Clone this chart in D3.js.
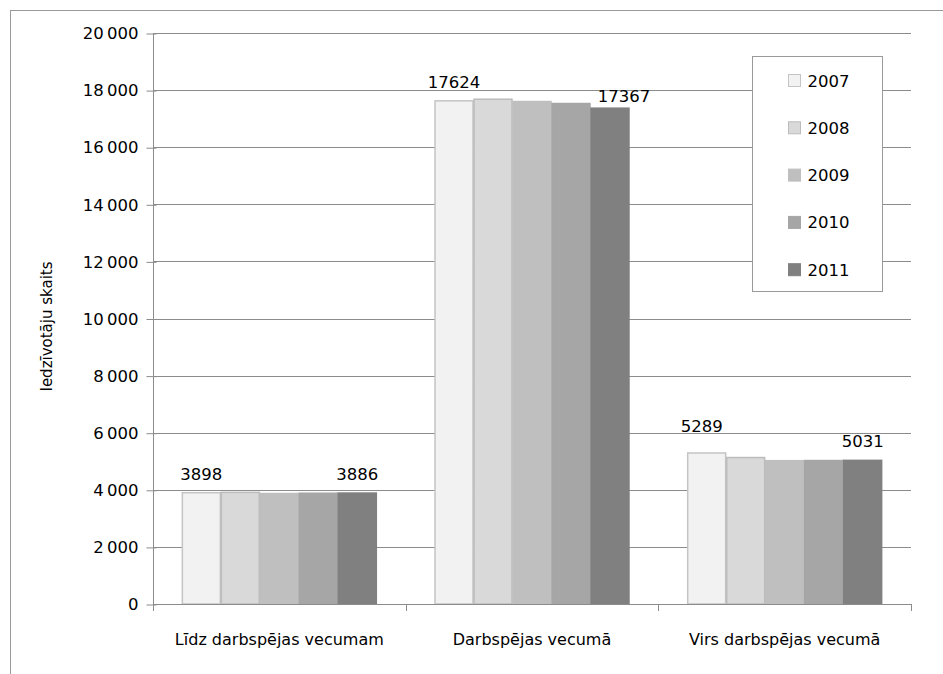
<!DOCTYPE html>
<html>
<head>
<meta charset="utf-8">
<script src="https://cdn.jsdelivr.net/npm/d3@7"></script>
<style>
  body { margin: 0; background: #fff; }
  svg text { font-family: 'DejaVu Sans', sans-serif; fill: #000; }
</style>
</head>
<body>
<div class="canvas"></div>
<script>
// data
const categories = ['Līdz darbspējas vecumam', 'Darbspējas vecumā', 'Virs darbspējas vecumā'];
const years = ['2007', '2008', '2009', '2010', '2011'];
const values2007 = [3898, 17624, 5289];
const values2008 = [3910, 17680, 5130];
const values2009 = [3870, 17600, 5020];
const values2010 = [3880, 17530, 5025];
const values2011 = [3886, 17367, 5031];
const yTicks = [0, 2000, 4000, 6000, 8000, 10000, 12000, 14000, 16000, 18000, 20000];
const yTitle = 'Iedzīvotāju skaits';

const series = [values2007, values2008, values2009, values2010, values2011];

const dims = { width: 943, height: 674 };
const plot = { left: 153, right: 911, top: 33, bottom: 604 };

const fills = ['#f2f2f2', '#d9d9d9', '#bfbfbf', '#a6a6a6', '#808080'];
const strokes = ['#c4c4c4', '#bcbcbc', '#bfbfbf', '#a6a6a6', '#808080'];

// only the first and last year get a value label, like the original.
// a couple of labels were moved by hand there, keyed "category-year"
const labelNudge = { '1-4': [14, 7], '2-0': [-5, -8] };
const nudge = d => labelNudge[`${d.cat}-${d.j}`] || [0, 0];

const svg = d3.select('.canvas')
  .append('svg')
  .attr('width', dims.width)
  .attr('height', dims.height);

// outer frame (only the left and top edges are inside the picture)
svg.append('rect')
  .attr('x', 10.5).attr('y', 10.5)
  .attr('width', 1000).attr('height', 1000)
  .attr('fill', 'none')
  .attr('stroke', '#9a9a9a');

const y = d3.scaleLinear()
  .domain([0, 20000])
  .range([plot.bottom, plot.top]);

const x0 = d3.scaleBand()
  .domain(d3.range(categories.length))
  .range([plot.left, plot.right]);

const x1 = d3.scaleBand()
  .domain(d3.range(years.length))
  .range([0, x0.bandwidth()])
  .paddingOuter(0.74);

const fmt = v => d3.format(',')(v).replace(/,/g, '\u2009');

// gridlines
svg.append('g')
  .selectAll('line')
  .data(yTicks.filter(d => d > 0))
  .join('line')
  .attr('x1', plot.left).attr('x2', plot.right)
  .attr('y1', d => Math.round(y(d)) + 0.5)
  .attr('y2', d => Math.round(y(d)) + 0.5)
  .attr('stroke', '#8c8c8c')
  .attr('stroke-width', 1.2);

// y axis
const yAxis = svg.append('g')
  .attr('transform', `translate(${plot.left + 0.5},0.5)`)
  .call(d3.axisLeft(y).tickValues(yTicks).tickSize(7).tickPadding(8).tickFormat(fmt));
yAxis.select('.domain').attr('stroke', '#8c8c8c').attr('d', `M0,${plot.top}V${plot.bottom}`);
yAxis.selectAll('.tick line').attr('stroke', '#8c8c8c').attr('x2', -7).attr('x1', 3);
yAxis.selectAll('.tick text')
  .style('font-family', "'DejaVu Sans', sans-serif")
  .style('font-size', '16.5px')
  .attr('fill', '#000');

// bars, grouped by category
const groups = svg.append('g')
  .selectAll('g')
  .data(categories.map((c, i) => ({ c, i })))
  .join('g')
  .attr('transform', d => `translate(${x0(d.i)},0)`);

groups.selectAll('rect')
  .data(d => series.map((s, j) => ({ cat: d.i, j, v: s[d.i] })))
  .join('rect')
  .attr('x', d => x1(d.j) + 0.5)
  .attr('y', d => y(d.v))
  .attr('width', x1.bandwidth() - 1)
  .attr('height', d => y(0) - y(d.v))
  .attr('fill', d => fills[d.j])
  .attr('stroke', d => strokes[d.j])
  .attr('stroke-width', 1.5);

// value labels on the first and last bar of each group
groups.selectAll('text.val')
  .data(d => [0, years.length - 1].map(j => ({ cat: d.i, j, v: series[j][d.i] })))
  .join('text')
  .attr('class', 'val')
  .attr('x', d => x1(d.j) + x1.bandwidth() / 2 + nudge(d)[0])
  .attr('y', d => y(d.v) - 13 + nudge(d)[1])
  .attr('text-anchor', 'middle')
  .style('font-size', '16.5px')
  .text(d => d.v);

// x axis line with ticks between categories
const xAxis = svg.append('g');
xAxis.append('line')
  .attr('x1', plot.left).attr('x2', plot.right)
  .attr('y1', plot.bottom + 0.5).attr('y2', plot.bottom + 0.5)
  .attr('stroke', '#8c8c8c')
  .attr('stroke-width', 1.2);
xAxis.selectAll('line.tick')
  .data(d3.range(categories.length + 1))
  .join('line')
  .attr('class', 'tick')
  .attr('x1', d => Math.round(plot.left + d * x0.step()) + 0.5)
  .attr('x2', d => Math.round(plot.left + d * x0.step()) + 0.5)
  .attr('y1', plot.bottom)
  .attr('y2', plot.bottom + 7)
  .attr('stroke', '#8c8c8c');
xAxis.selectAll('text')
  .data(categories)
  .join('text')
  .attr('x', (d, i) => x0(i) + x0.bandwidth() / 2)
  .attr('y', 645)
  .attr('text-anchor', 'middle')
  .style('font-size', '16px')
  .text(d => d);

// y axis title
svg.append('text')
  .attr('transform', `translate(52,${(plot.top + plot.bottom) / 2 + 8}) rotate(-90)`)
  .attr('text-anchor', 'middle')
  .style('font-size', '15px')
  .text(yTitle);

// legend
const legend = svg.append('g').attr('transform', 'translate(752.5,56.5)');
legend.append('rect')
  .attr('width', 130).attr('height', 235)
  .attr('fill', '#fff')
  .attr('stroke', '#9a9a9a');
const items = legend.selectAll('g')
  .data(years)
  .join('g')
  .attr('transform', (d, i) => `translate(0,${24 + i * 47.3})`);
items.append('rect')
  .attr('x', 36).attr('y', -6)
  .attr('width', 12).attr('height', 12)
  .attr('fill', (d, i) => fills[i])
  .attr('stroke', (d, i) => strokes[i]);
items.append('text')
  .attr('x', 55).attr('y', 6)
  .style('font-size', '16.5px')
  .text(d => d);
</script>
</body>
</html>
